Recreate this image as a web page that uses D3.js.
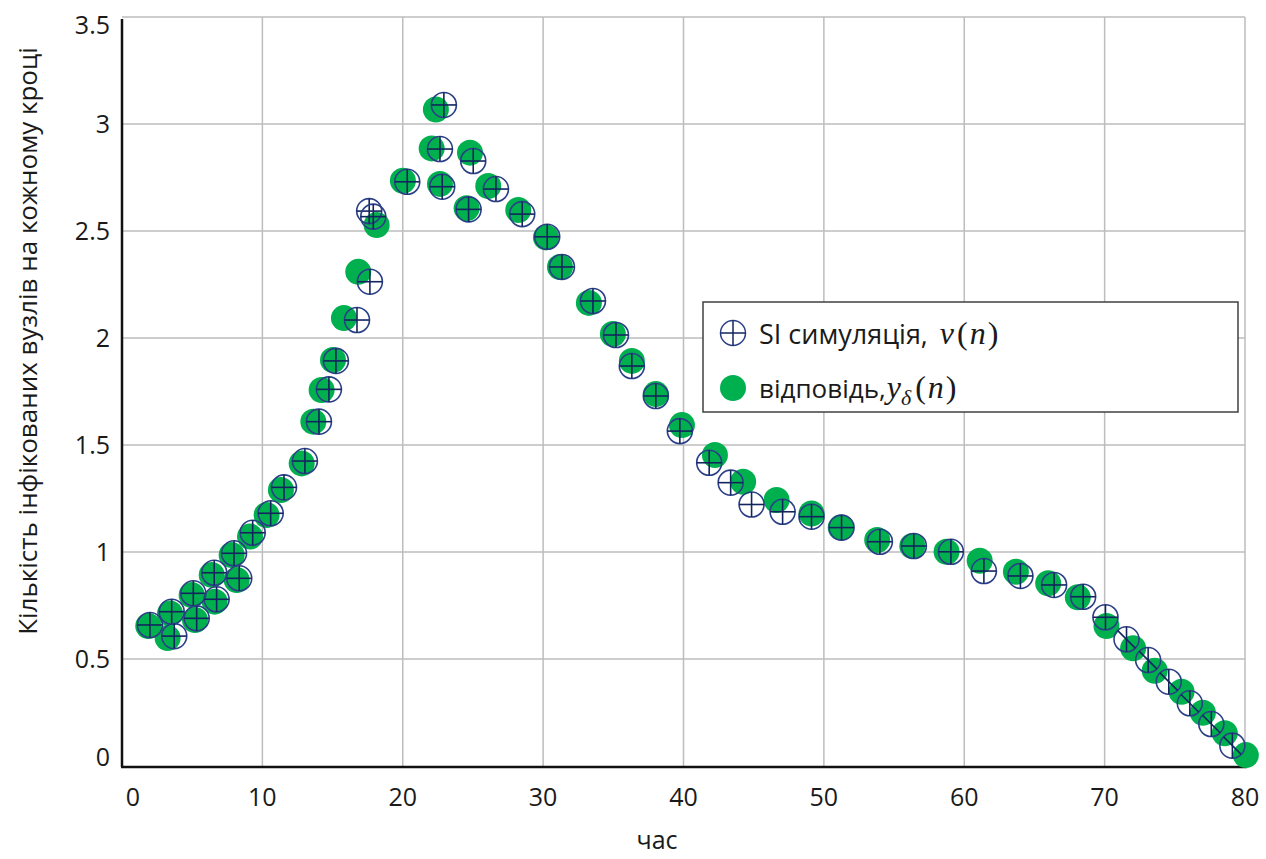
<!DOCTYPE html>
<html>
<head>
<meta charset="utf-8">
<script src="https://cdn.jsdelivr.net/npm/d3@7"></script>
<style>
  body { margin: 0; background: #fff; }
  text { font-family: "Open Sans", "Noto Sans", sans-serif; fill: #1a1a1a; }
  .math { font-family: "Liberation Serif", "DejaVu Serif", serif; }
</style>
</head>
<body>
<div id="chart"></div>
<script>

// SI simulation, v(n)
const simT = [1.99, 3.54, 3.72, 5.08, 5.32, 6.57, 6.74, 7.98, 8.35, 9.31, 10.59, 11.54, 13.03, 14.03, 14.74,
  15.24, 16.74, 17.61, 17.90, 17.66, 20.32, 22.65, 22.81, 22.93, 24.69, 25.02, 26.64, 28.51, 30.29,
  31.34, 33.55, 35.19, 36.32, 38.03, 39.74, 41.83, 43.36, 44.85, 47.06, 49.12, 51.26, 53.99, 56.41,
  59.05, 61.4, 64.0, 66.4, 68.47, 70.06, 71.56, 73.1, 74.57, 76.07, 77.6, 79.1];
const simV = [0.659, 0.721, 0.607, 0.807, 0.690, 0.903, 0.779, 0.994, 0.877, 1.090, 1.181, 1.302, 1.425, 1.609, 1.760,
  1.893, 2.084, 2.593, 2.567, 2.263, 2.730, 2.883, 2.707, 3.089, 2.601, 2.827, 2.696, 2.579, 2.473,
  2.332, 2.173, 2.014, 1.869, 1.729, 1.565, 1.417, 1.324, 1.222, 1.188, 1.165, 1.114, 1.048, 1.028,
  1.001, 0.911, 0.888, 0.846, 0.791, 0.695, 0.592, 0.495, 0.394, 0.293, 0.196, 0.095];

// response, y_delta(n)
const respT = [1.87, 3.42, 3.25, 4.96, 5.2, 6.39, 6.6, 7.81, 8.17, 9.12, 10.3, 11.32, 12.8, 13.63, 14.22,
  15.03, 15.81, 16.83, 18.14, 20.01, 22.06, 22.36, 22.65, 24.55, 24.79, 26.09, 28.23, 30.2,
  31.2, 33.26, 34.97, 36.32, 38.03, 39.89, 42.24, 44.25, 46.63, 49.12, 51.2, 53.8, 56.3, 58.74,
  61.1, 63.68, 65.98, 68.09, 70.13, 72.03, 73.57, 75.48, 77.0, 78.56, 80.06];
const respV = [0.654, 0.713, 0.598, 0.799, 0.682, 0.893, 0.768, 0.986, 0.869, 1.072, 1.173, 1.290, 1.414, 1.609, 1.757,
  1.897, 2.093, 2.309, 2.528, 2.735, 2.886, 3.068, 2.720, 2.606, 2.866, 2.710, 2.598, 2.470,
  2.332, 2.164, 2.019, 1.893, 1.738, 1.593, 1.453, 1.328, 1.243, 1.180, 1.114, 1.056, 1.028, 1.001,
  0.959, 0.908, 0.854, 0.788, 0.654, 0.550, 0.445, 0.347, 0.249, 0.153, 0.051];

const xTicks = [0, 10, 20, 30, 40, 50, 60, 70, 80];
const yTicks = [0, 0.5, 1, 1.5, 2, 2.5, 3, 3.5];
const yTickLabels = ["0", "0.5", "1", "1.5", "2", "2.5", "3", "3.5"];

const width = 1266;
const height = 859;

const x = d3.scaleLinear().domain([0, 80]).range([122, 1245]);
const y = d3.scaleLinear().domain([0, 3.5]).range([766, 17]);

const svg = d3.select("#chart")
  .append("svg")
    .attr("width", width)
    .attr("height", height);

// grid
svg.append("g")
  .selectAll("line")
  .data(yTicks.slice(1))
  .join("line")
    .attr("x1", x(0))
    .attr("x2", x(80))
    .attr("y1", d => y(d))
    .attr("y2", d => y(d))
    .attr("stroke", "#bdbdbd")
    .attr("stroke-width", 1.5);

svg.append("g")
  .selectAll("line")
  .data(xTicks.slice(1))
  .join("line")
    .attr("x1", d => x(d))
    .attr("x2", d => x(d))
    .attr("y1", y(0))
    .attr("y2", y(3.5))
    .attr("stroke", "#bdbdbd")
    .attr("stroke-width", 1.5);

// axes lines
svg.append("line")
  .attr("x1", x(0)).attr("x2", x(0))
  .attr("y1", y(3.5) + 2).attr("y2", y(0) + 1)
  .attr("stroke", "#111").attr("stroke-width", 2.5);
svg.append("line")
  .attr("x1", x(0) - 1).attr("x2", x(80) + 2)
  .attr("y1", y(0) + 1).attr("y2", y(0) + 1)
  .attr("stroke", "#111").attr("stroke-width", 2.5);

// tick labels
svg.append("g")
  .selectAll("text")
  .data(xTicks)
  .join("text")
    .attr("x", d => x(d) + (d === 0 ? 11 : 0))
    .attr("y", 806)
    .attr("text-anchor", "middle")
    .style("font-size", "25px")
    .text(d => d);

svg.append("g")
  .selectAll("text")
  .data(yTicks)
  .join("text")
    .attr("x", 110)
    .attr("y", d => y(d) + (d === 3.5 ? 8 : d === 0 ? -9 : 0))
    .attr("dy", "0.36em")
    .attr("text-anchor", "end")
    .style("font-size", "25px")
    .text((d, i) => yTickLabels[i]);

// axis titles
svg.append("text")
  .attr("x", 657)
  .attr("y", 849)
  .attr("text-anchor", "middle")
  .style("font-size", "25px")
  .text("час");

svg.append("text")
  .attr("transform", "translate(37, 341) rotate(-90)")
  .attr("text-anchor", "middle")
  .style("font-size", "26px")
  .text("Кількість інфікованих вузлів на кожному кроці");

// response markers (green, underneath)
const resp = respT.map((t, i) => ({ t, v: respV[i] }));
const sim = simT.map((t, i) => ({ t, v: simV[i] }));

svg.append("g")
  .selectAll("circle")
  .data(resp)
  .join("circle")
    .attr("cx", d => x(d.t))
    .attr("cy", d => y(d.v))
    .attr("r", 13)
    .attr("fill", "#00b04f");

// simulation markers (ring with cross)
const r = 12.5;
const simG = svg.append("g")
  .selectAll("g")
  .data(sim)
  .join("g")
    .attr("transform", d => `translate(${x(d.t)}, ${y(d.v)})`);

simG.append("circle")
  .attr("r", r)
  .attr("fill", "none")
  .attr("stroke", "#2b3f86")
  .attr("stroke-width", 1.6);

simG.append("line")
  .attr("x1", 0).attr("x2", 0)
  .attr("y1", -r).attr("y2", r)
  .attr("stroke", "#13245e")
  .attr("stroke-width", 1.6);

simG.append("line")
  .attr("x1", d => d.t > 71 ? -r * 0.7 : -r)
  .attr("x2", d => d.t > 71 ? r * 0.7 : r)
  .attr("y1", d => d.t > 71 ? -r * 0.7 : 0)
  .attr("y2", d => d.t > 71 ? r * 0.7 : 0)
  .attr("stroke", "#13245e")
  .attr("stroke-width", 1.6);

// legend
const legend = svg.append("g");
legend.append("rect")
  .attr("x", 703).attr("y", 302)
  .attr("width", 535).attr("height", 110)
  .attr("fill", "#fff")
  .attr("stroke", "#404040")
  .attr("stroke-width", 1.5);

const lg1 = legend.append("g").attr("transform", "translate(733, 333)");
lg1.append("circle").attr("r", 12.5).attr("fill", "none").attr("stroke", "#2b3f86").attr("stroke-width", 1.5);
lg1.append("line").attr("x1", -12.5).attr("x2", 12.5).attr("stroke", "#13245e").attr("stroke-width", 1.5);
lg1.append("line").attr("y1", -12.5).attr("y2", 12.5).attr("stroke", "#13245e").attr("stroke-width", 1.5);

legend.append("circle")
  .attr("cx", 733).attr("cy", 388).attr("r", 13)
  .attr("fill", "#00b04f");

const t1 = legend.append("text")
  .attr("x", 759).attr("y", 344)
  .style("font-size", "27px");
t1.append("tspan").text("SI симуляція,");
t1.append("tspan").attr("class", "math").attr("dx", 12).style("font-style", "italic").style("font-size", "32px").text("v");
t1.append("tspan").attr("class", "math").attr("dx", 3).style("font-size", "32px").text("(");
t1.append("tspan").attr("class", "math").attr("dx", 2).style("font-style", "italic").style("font-size", "32px").text("n");
t1.append("tspan").attr("class", "math").attr("dx", 2).style("font-size", "32px").text(")");

const t2 = legend.append("text")
  .attr("x", 759).attr("y", 398)
  .style("font-size", "26px");
t2.append("tspan").text("відповідь,");
t2.append("tspan").attr("class", "math").attr("dx", 1).style("font-style", "italic").style("font-size", "32px").text("y");
t2.append("tspan").attr("class", "math").style("font-style", "italic").style("font-size", "22px").attr("dy", 7).text("δ");
t2.append("tspan").attr("class", "math").attr("dx", 4).style("font-size", "32px").attr("dy", -7).text("(");
t2.append("tspan").attr("class", "math").attr("dx", 2).style("font-style", "italic").style("font-size", "32px").text("n");
t2.append("tspan").attr("class", "math").attr("dx", 2).style("font-size", "32px").text(")");

</script>
</body>
</html>
